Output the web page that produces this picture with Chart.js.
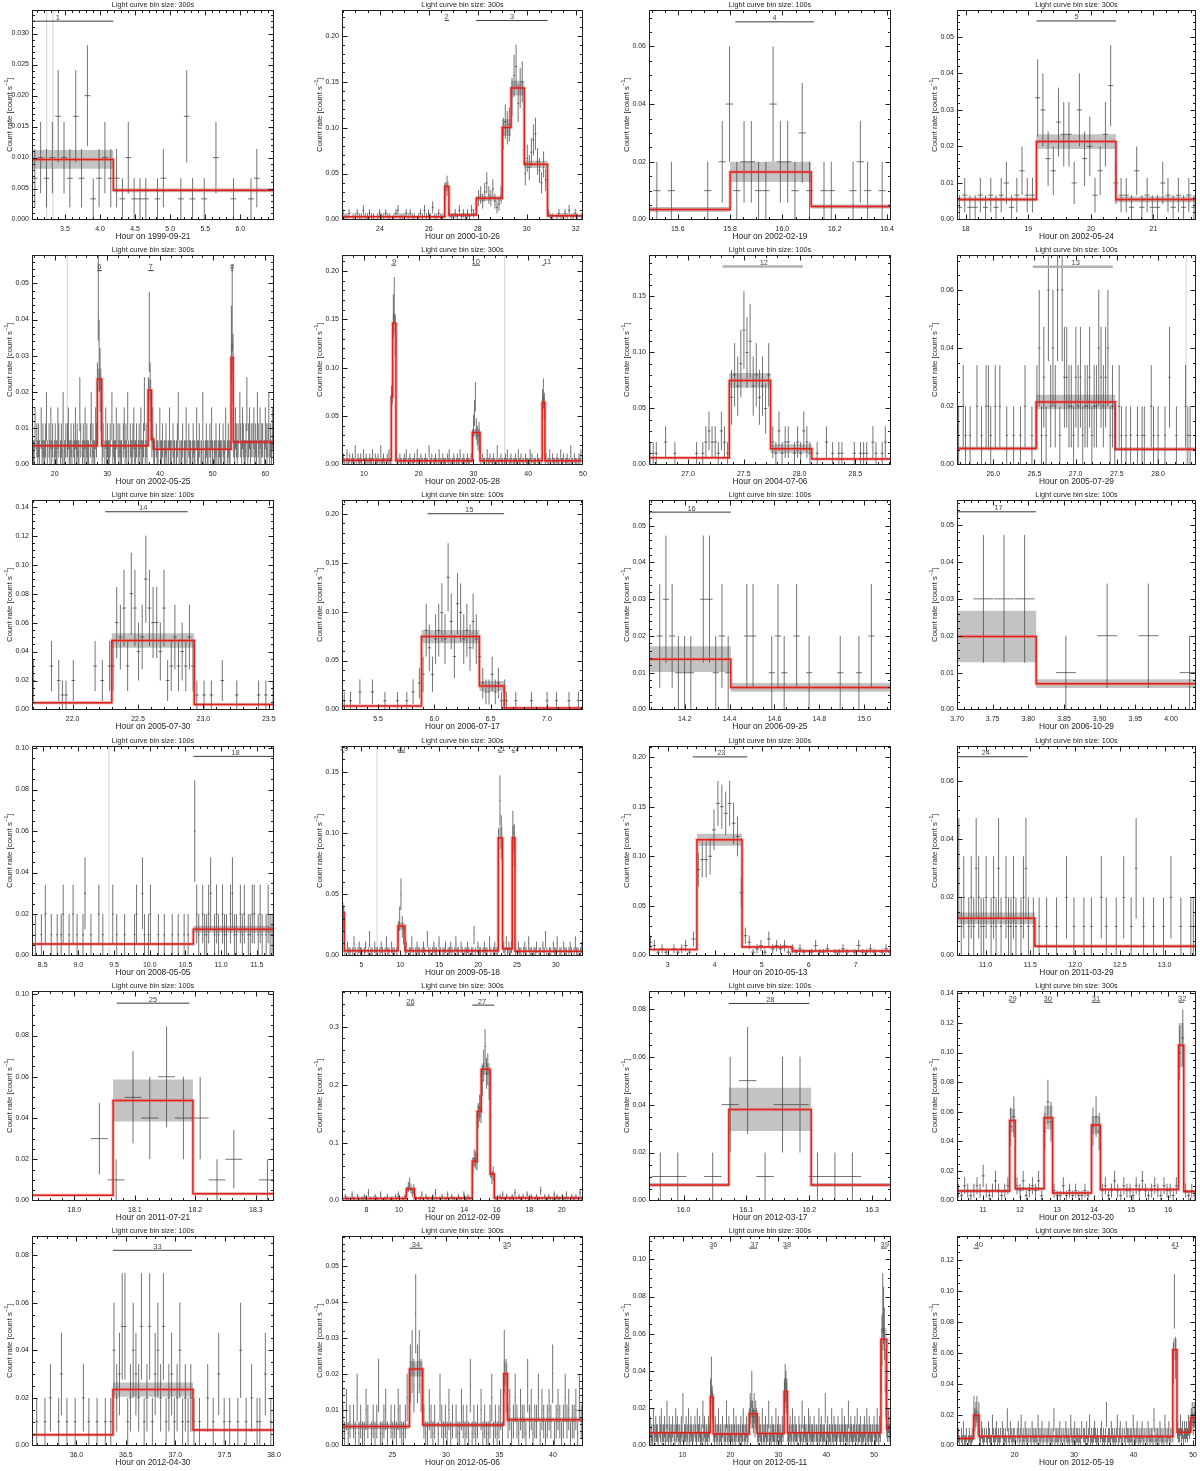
<!DOCTYPE html>
<html>
<head>
<meta charset="utf-8">
<script src="https://cdn.jsdelivr.net/npm/chart.js@4.4.1/dist/chart.umd.min.js"></script>
<style>
body { margin: 0; background: #fff; }
#wrap { position: relative; width: 1200px; height: 1471px; }
#wrap canvas { position: absolute; }
</style>
</head>
<body>
<div id="wrap"></div>
<script>
// ---- panel metadata (reading order, 6 rows x 4 cols) ----
const DATES = ['1999-09-21','2000-10-26','2002-02-19','2002-05-24','2002-05-25','2002-05-28','2004-07-06','2005-07-29',
  '2005-07-30','2006-07-17','2006-09-25','2006-10-29','2008-05-05','2009-05-18','2010-05-13','2011-03-29',
  '2011-07-21','2012-02-09','2012-03-17','2012-03-20','2012-04-30','2012-05-06','2012-05-11','2012-05-19'];
const BIN_SIZE = [300,300,100,300,300,300,100,100,100,100,100,100,100,300,300,100,100,300,100,300,100,300,300,300];
// spacing (hours) of the listed light-curve samples
const SAMPLE_STEP = [0.0833,0.0833,0.02778,0.0833,0.1667,0.1667,0.02778,0.02778,0.02778,0.02778,0.02778,0.0289,
  0.02778,0.1667,0.0833,0.02778,0.02778,0.0833,0.02778,0.0833,0.02778,0.1667,0.1667,0.1667];
// count rate of one count in a bin
const RATE_UNIT = [0.00333,0.00333,0.01,0.00333,0.00333,0.00333,0.01,0.01,0.01,0.009,0.01,0.01,0.01,0.00333,0.00333,
  0.01,0.01,0.00333,0.01,0.00333,0.01,0.00333,0.00333,0.00333];
const X_RANGE = [[3.03,6.48],[22.45,32.3],[15.49,16.415],[17.86,21.68],[15.7,61.65],[6,50],[26.65,28.82],[25.56,28.46],
  [21.69,23.54],[5.18,7.32],[14.04,15.12],[3.70,4.035],[8.35,11.74],[2.5,33.5],[2.6,7.75],[10.68,13.35],
  [17.93,18.33],[6.5,21.3],[15.945,16.33],[10.3,16.75],[35.55,38.0],[20.3,42.8],[3,53.5],[10.3,50.5]];
const X_STEP = [0.5,2,0.2,1,10,10,0.5,0.5,0.5,0.5,0.2,0.05,0.5,5,1,0.5,0.1,2,0.1,1,0.5,5,10,10];
const Y_MAX = [0.0338,0.228,0.0726,0.0573,0.0578,0.2165,0.187,0.072,0.1446,0.214,0.057,0.0568,0.101,0.171,0.211,
  0.0721,0.1016,0.362,0.0874,0.1416,0.088,0.0583,0.1125,0.1355];
const Y_STEP = [0.005,0.05,0.02,0.01,0.01,0.05,0.05,0.02,0.02,0.05,0.01,0.01,0.02,0.05,0.05,0.02,0.02,0.1,0.02,0.02,
  0.02,0.01,0.02,0.02];

// ---- Bayesian blocks: edges, rates, half width of the grey band ----
const BLOCK_EDGES = [
  [3.03,4.19,6.48],
  [22.45,26.65,26.82,27.94,29.0,29.36,29.9,30.85,32.3],
  [15.49,15.8,16.11,16.415],
  [17.86,19.13,20.4,21.68],
  [15.7,28.1,28.95,37.75,38.4,38.8,53.5,53.9,61.65],
  [6,15.0,15.25,15.85,29.8,31.2,42.55,43.05,50],
  [26.65,27.37,27.74,28.11,28.82],
  [25.56,26.52,27.48,28.46],
  [21.69,22.3,22.93,23.54],
  [5.18,5.886,6.40,6.62,7.32],
  [14.04,14.405,15.12],
  [3.70,3.811,4.035],
  [8.35,10.61,11.74],
  [2.5,2.8,9.7,10.6,22.6,23.15,24.4,24.75,33.5],
  [2.6,3.62,4.58,5.65,7.75],
  [10.68,11.55,13.35],
  [17.93,18.064,18.196,18.33],
  [6.5,10.45,10.95,14.5,14.8,15.05,15.6,15.85,21.3],
  [15.945,16.072,16.203,16.33],
  [10.3,11.72,11.87,12.65,12.88,13.93,14.17,16.28,16.42,16.75],
  [35.55,36.37,37.18,38.0],
  [20.3,26.6,27.84,35.4,35.75,42.8],
  [3,15.8,16.4,23.9,25.6,31.2,31.9,51.4,52.6,53.5],
  [10.3,13.1,14.0,46.6,47.3,49.6,50.5]
];
const BLOCK_RATES = [
  [0.0097,0.0047],
  [0.003,0.036,0.005,0.023,0.1,0.143,0.06,0.004],
  [0.0035,0.0165,0.0045],
  [0.0055,0.0213,0.0055],
  [0.0052,0.0235,0.0052,0.0205,0.007,0.0042,0.0295,0.0062],
  [0.0045,0.07,0.146,0.004,0.033,0.004,0.064,0.004],
  [0.006,0.075,0.014,0.005],
  [0.0055,0.0215,0.0052],
  [0.0046,0.0476,0.0035],
  [0.0035,0.0745,0.024,0.0015],
  [0.0137,0.006],
  [0.0198,0.007],
  [0.0055,0.0127],
  [0.035,0.0038,0.024,0.0038,0.096,0.0055,0.096,0.0035],
  [0.006,0.1165,0.0085,0.0045],
  [0.0128,0.0032],
  [0.0025,0.0485,0.0033],
  [0.0035,0.02,0.004,0.068,0.154,0.227,0.046,0.0045],
  [0.0065,0.038,0.0065],
  [0.0065,0.054,0.008,0.056,0.005,0.051,0.0075,0.105,0.006],
  [0.0045,0.0235,0.0065],
  [0.0053,0.0213,0.0057,0.02,0.0072],
  [0.0068,0.026,0.0062,0.017,0.0065,0.029,0.0068,0.057,0.009],
  [0.0045,0.0195,0.0058,0.062,0.0085,0.018]
];
const BLOCK_ERRS = [
  [0.0015,0.0003],
  [0.0007,0.005,0.001,0.0025,0.009,0.008,0.004,0.0007],
  [0.0008,0.0035,0.0007],
  [0.0005,0.002,0.0008],
  [0.0003,0.003,0.0003,0.003,0.001,0.0002,0.004,0.0004],
  [0.0004,0.01,0.01,0.0004,0.004,0.0004,0.006,0.0005],
  [0.0006,0.0066,0.004,0.0005],
  [0.0006,0.0025,0.0006],
  [0.0008,0.005,0.0006],
  [0.0005,0.0067,0.005,0.0004],
  [0.0035,0.0012],
  [0.007,0.0012],
  [0.0005,0.0017],
  [0.008,0.0003,0.003,0.0003,0.009,0.001,0.01,0.0003],
  [0.0008,0.006,0.001,0.0005],
  [0.002,0.0005],
  [0.0003,0.0102,0.0004],
  [0.0004,0.003,0.0004,0.006,0.01,0.01,0.004,0.0004],
  [0.0007,0.009,0.0007],
  [0.001,0.008,0.0012,0.008,0.0008,0.006,0.0008,0.015,0.001],
  [0.0004,0.003,0.0005],
  [0.0008,0.0021,0.0006,0.003,0.0006],
  [0.0004,0.004,0.0003,0.002,0.0003,0.005,0.0003,0.006,0.002],
  [0.001,0.003,0.0003,0.007,0.002,0.003]
];

// ---- flare intervals: [start, end, label position, label] ----
const FLARES = [
  [[2.8,4.19,3.4,'1']],
  [[26.65,26.82,26.72,'2'],[27.93,30.85,29.4,'3']],
  [[15.82,16.12,15.97,'4']],
  [[19.13,20.4,19.77,'5']],
  [[28.1,28.95,28.5,'6'],[37.75,38.8,38.2,'7'],[53.5,53.9,53.7,'8']],
  [[15.0,15.85,15.5,'9'],[29.8,31.2,30.4,'10'],[42.55,43.05,43.5,'11']],
  [[27.31,28.03,27.68,'12']],
  [[26.48,27.45,27.0,'13']],
  [[22.25,22.88,22.54,'14']],
  [[5.94,6.62,6.31,'15']],
  [[13.9,14.405,14.23,'16']],
  [[3.6,3.811,3.758,'17']],
  [[10.61,11.9,11.2,'18']],
  [[2.5,2.8,2.75,'19'],[9.7,10.6,10.1,'20'],[22.6,23.15,23.0,'21'],[24.4,24.75,24.8,'22']],
  [[3.53,4.69,4.14,'23']],
  [[10.5,11.47,11.0,'24']],
  [[18.07,18.19,18.13,'25']],
  [[10.45,10.95,10.7,'26'],[14.5,15.85,15.1,'27']],
  [[16.072,16.2,16.138,'28']],
  [[11.72,11.87,11.8,'29'],[12.65,12.88,12.75,'30'],[13.93,14.17,14.05,'31'],[16.28,16.42,16.38,'32']],
  [[36.37,37.17,36.82,'33']],
  [[26.6,27.84,27.2,'34'],[35.4,35.75,35.7,'35']],
  [[15.8,16.4,16.4,'36'],[23.9,25.6,25.0,'37'],[31.2,31.9,31.8,'38'],[51.4,52.6,52.2,'39']],
  [[13.1,14.0,14.0,'40'],[46.6,47.3,47.0,'41']]
];
const FLARE_Y = [0.032,0.2166,0.0685,0.0543,0.0535,0.206,0.1767,0.068,0.1365,0.2,0.0537,0.0536,0.096,0.166,0.2,
  0.0684,0.0957,0.3376,0.0822,0.134,0.082,0.0549,0.106,0.1276];
const VLINES = [[3.24,3.33],[],[],[],[22.4],[35.7],[],[28.34],[],[],[],[],[9.43],[7.0],[],[],[],[],[],[],[],[],[],[]];

// ---- light curves: [first sample time, counts per bin ...] ----
const C01 = [[3.07,[2,3,2,3,5,3,2,5,2,6,1,2,3,2,2,1,3,1,1,1,0,1,2,0,0,1,5,1,0,1,0,3,0,0,1,0,0,1,2,0,0]]];
const C02 = [
  [22.49,[2,1,1,2,0,1,1,2,1,1,3,1,1,2,1,1,0,1,2,1,1,2,1,1,0,1,2,3,1,1,1,2,1,2,1,1,0,1,2,1,3,1,2,1,4,1,1,2,1,1]],
  [26.66,[9,11]],
  [26.83,[2,1,1,2,1,3,1,2,1,2,1,3,2]],
  [27.95,[5,7,8,6,9,12,8,7,10,6,4,5,8]],
  [29.04,[28,32,30,31]],
  [29.4,[40,47,50,38,43,45]],
  [29.94,[15,20,17,22,26,28,19,16,12,18,13]],
  [30.9,[2,1,1,0,1,2,1,1,2,1,3,1,1,2,1,0,1]]];
const C03 = [[15.52,[1,0,1,0,0,0,0,1,0,2,4,1,2,2,1,1,4,2,2,1,3,1,0,1,1,0,0,1,2,1,0,1,0]]];
const C04 = [[17.9,[1,2,1,1,2,1,2,1,2,3,1,2,4,2,2,10,9,5,4,8,7,7,3,9,5,6,2,4,7,11,3,2,2,1,4,1,2,1,1,3,2,1,2,1,2,1]]];
const C05 = [
  [15.78,[2,1,1,3,0,2,1,2,1,0,3,1,2,1,1,2,4,1,0,2,1,3,1,2,0,1,2,1,1,3,2,0,1,2,1,4,1,1,2,0,2,3,1,1,2,1,0,2,1,3,
    1,2,1,1,5,2,0,1,2,1,3,1,2,1,1,0,2,4,1,2,1,1,3,2]],
  [28.12,[6,14,9,7,5]],
  [29.04,[1,2,0,1,3,1,2,1,1,2,0,4,1,2,1,1,3,0,2,1,2,1,1,0,2,3,1,2,1,4,1,0,2,1,1,2,3,1,1,2,0,1,2,1,3,1,1,2,5,1,2,1]],
  [37.8,[5,11,6,4]],
  [38.47,[2,3,1]],
  [38.97,[1,0,2,1,1,0,3,1,1,2,0,1,1,2,1,0,1,3,1,1,0,2,1,1,0,1,2,4,1,0,1,1,2,0,1,1,3,1,0,2,1,1,0,1,2,1,1,0,3,1,
    1,2,0,1,1,4,1,0,1,2,1,1,0,2,1,3,1,0,1,1,2,1,0,1,2,1,1,0,2,1,1,3,0,1,2,1,1]],
  [53.55,[10,13,8]],
  [54.0,[2,1,3,2,1,2,0,4,2,1,3,2,1,1,2,5,1,2,3,1,2,0,2,3,1,2,1,4,2,1,3,1,2,2,0,1,3,2,1,2,4,1,2,1,3,2]]];
const C06 = [
  [6.08,[1,2,1,0,1,3,1,1,2,0,1,2,1,1,4,1,0,2,1,1,2,1,0,3,1,1,2,1,0,1,2,1,1,3,1,0,2,1,1,2,0,1,4,1,1,2,1,0,1,2,1,3,1,1]],
  [15.04,[20,24,46,51,40]],
  [15.9,[3,1,1,0,2,1,1,0,1,2,1,3,0,1,1,2,1,0,1,1,2,0,1,3,1,1,0,2,1,1,0,1,2,1,1,0,4,1,1,2,0,1,1,2,1,0,1,3,1,1,
    0,2,1,1,1,0,2,1,3,1,0,1,1,2,1,0,1,2,1,1,3,0,1,1,2,1,0,1,2,1,1,0,2]],
  [29.85,[8,12,16,21,11,9,7,10,6]],
  [31.35,[1,0,2,1,1,0,1,3,1,1,2,0,1,1,2,1,0,1,4,1,1,0,2,1,1,0,1,2,1,3,0,1,1,2,1,0,1,1,2,1,0,3,1,1,2,0,1,1,0,2,
    1,1,0,1,3,1,2,0,1,1,1,0,2,1,1,0,1]],
  [42.6,[19,22,18]],
  [43.1,[1,2,0,1,1,3,1,0,2,1,1,0,1,2,1,1,0,3,1,1,2,0,1,1,2,1,0,1,4,1,1,0,2,1,1,0,1,2,1,3,0,1]]];
const C07 = [
  [26.66,[1,1,1,0,0,2,0,0,1,0,0,0,0,0,0,1,0,1,2,3,2,2,1,3,2,1]],
  [27.39,[6,8,7,9,12,10,11,7,8,6,7,5,8]],
  [27.76,[2,1,3,1,2,2,0,1,2,1,3,2,1]],
  [28.13,[0,1,0,0,2,0,1,0,1,1,0,0,0,1,0,1,1,1,0,2,1,0,1,2,0]]];
const C08 = [
  [25.58,[1,0,2,1,0,1,0,0,2,0,1,0,2,2,1,0,2,0,2,0,0,1,0,0,1,0,0,1,0,2,0,0,1,0]],
  [26.53,[2,4,1,3,1,6,2,4,2,6,1,6,3,3,2,2,1,3,2,3,1,2,2,3,1,2,2,4,3,2,3,4,1,2,1]],
  [27.5,[0,2,1,0,1,0,1,0,0,1,0,1,1,0,0,2,1,0,1,0,0,1,0,3,0,0,1,0,0,0,2,1,1,0,0]]];
const C09 = [
  [21.7,[2,0,0,0,0,3,0,2,1,1,0,2,0,0,0,0,0,3,0,2,0,3]],
  [22.31,[3,6,5,7,3,8,7,4,5,9,7,6,6,4,7,2,3,5,3,4,3,5,3]],
  [22.95,[1,0,1,0,1,0,0,2,0,0,0,1,0,0,0,0,0,1,0,1,0,1]]];
const C10 = [
  [5.2,[1,0,1,0,0,2,0,0,0,2,0,0,0,1,0,0,0,1,0,0,1,0,2,0,3]],
  [5.9,[4,9,7,4,8,9,11,8,15,10,6,12,11,8,9,7,10,8,6]],
  [6.43,[3,2,2,4,2,3,1,2]],
  [6.64,[1,0,0,1,0,0,0,0,1,0,0,0,0,1,0,0,1,0,0,0,1,0,0,1,0]]];
const C11 = [[14.06,[0,2,3,2,1,1,1,0,3,3,1,2,1,0,0,2,2,0,0,1,2,1,0,2,0,1,0,0,0,0,1,0,0,1,0,2,0,0,0]]];
const C12 = [[3.737,[3,3,3,0,1,0,2,0,2,0,1]]];
const C13 = [
  [8.37,[0,1,0,0,1,0,2,0,0,1,0,0,1,0,1,2,0,0,1,0,2,0,1,0,0,1,3,0,0,1,0,0,0,2,0,1,0,0,0,0,2,0,1,0,0,0,1,0,0,0,
    0,1,2,0,0,3,1,0,1,2,0,0,0,1,0,0,1,0,0,0,1,0,0,1,0,0,1,0,1,0,0]],
  [10.63,[6,2,1,0,2,1,1,2,3,0,1,2,1,0,2,1,1,0,2,3,1,1,0,2,1,2,0,1,1,2,2,0,1,2,1,0,1,2,1,1,1]]];
const C14 = [
  [2.55,[11,9]],
  [2.88,[1,0,2,1,1,0,1,3,1,0,1,2,1,1,0,1,2,0,1,4,1,1,0,2,1,1,0,1,2,1,0,1,3,1,1,0,2,1,1,0,1]],
  [9.75,[6,9,15,7,5]],
  [10.65,[1,2,0,1,1,3,1,0,1,2,1,1,0,1,2,1,0,4,1,1,0,1,2,1,1,0,3,1,0,1,1,2,0,1,1,2,1,0,1,3,1,1,0,2,1,0,1,1,2,1,
    0,1,1,5,1,0,2,1,1,0,1,2,1,1,0,3,1,0,1,2,1,1]],
  [22.65,[26,38,29]],
  [23.3,[2,1,3,1,2,1,2]],
  [24.48,[30,27]],
  [24.85,[1,0,2,1,1,0,1,2,1,0,3,1,1,0,1,1,2,0,1,1,0,2,1,4,1,0,1,1,0,2,1,1,3,0,1,1,0,2,1,1,0,1,2,1,0,1,3,1,1,0,1,2]]];
const C15 = [
  [2.63,[4,3,1,2,1,0,2,1,2,3,1,5]],
  [3.65,[26,29,29,30,38,46,45,43,46,40,36,19]],
  [4.65,[6,4,1,2,3,1,5,2,3,2,3,1,2]],
  [5.73,[1,2,1,0,1,3,1,1,2,0,1,1,2,1,0,1,3,1,1,2,1,0,1,2,1]]];
const C16 = [
  [10.7,[3,1,2,0,1,2,1,3,2,1,1,2,0,1,2,1,3,1,0,2,1,1,2,1,0,1,2,3,1,0,1]],
  [11.57,[0,1,0,0,1,0,0,0,1,0,0,0,2,0,0,1,0,0,0,1,0,0,1,0,0,0,2,0,1,0,0,0,1,0,0,2,0,0,1,0,3,0,0,1,0,0,0,1,0,0,
    0,1,0,0,2,0,0,0,1,0,0,0,1,1,0]]];
const C17 = [[17.958,[0,0,0,3,1,5,4,6,4,4,1,2,0,1]]];
const C18 = [
  [6.54,[1,0,2,1,1,0,1,3,1,1,0,2,1,0,1,1,2,1,0,4,1,1,0,1,2,1,1,0,3,1,0,1,1,2,0,1,1,1,0,2,1,3,1,0,1,1,2]],
  [10.49,[5,7,9,6,4,6]],
  [10.99,[2,1,0,1,1,3,1,0,2,1,1,0,1,2,1,4,1,0,1,1,2,0,1,1,3,1,0,2,1,1,0,1,2,1,1,0,3,1,1,2,1,1]],
  [14.54,[18,22,21,20]],
  [14.87,[44,48,47]],
  [15.12,[62,70,80,66,68,60]],
  [15.62,[16,12,14]],
  [15.87,[2,1,1,0,2,1,3,1,1,2,0,1,1,2,1,4,1,0,2,1,1,2,0,1,3,1,1,2,1,0,1,2,1,1,5,1,0,2,1,1,2,1,0,1,3,1,2,1,1,0,
    2,1,1,3,1,0,1,2,1,1,2,0,1,4,1,1]]];
const C19 = [[15.963,[1,1,0,1,4,5,1,4,4,1,1,1,0,0]]];
const C20 = [
  [10.34,[2,1,3,2,1,2,3,2,5,2,1,2,4,2,1,2,3]],
  [11.75,[15,17]],
  [11.92,[3,2,4,1,2,3,2,4,1]],
  [12.67,[14,20,16]],
  [12.92,[2,1,1,3,1,2,1,2,1,1,2,1]],
  [13.97,[15,17,14]],
  [14.22,[2,3,1,2,4,2,1,3,2,2,1,3,2,4,2,1,2,3,2,1,3,2,2,1,3]],
  [16.31,[30,33]],
  [16.47,[2,1,2,1]]];
const C21 = [
  [35.57,[0,1,0,0,1,0,2,0,0,1,3,0,1,0,0,1,0,0,2,0,1,0,0,1,0,0,1,0,1]],
  [36.38,[4,2,3,5,5,1,2,4,3,2,5,1,2,5,1,3,4,2,5,1,2,3,1,2,4,1,2,1,2]],
  [37.19,[1,0,1,0,0,2,0,1,0,3,0,1,0,1,0,0,1,4,0,1,0,2,0,1,1,0,3,0,1]]];
const C22 = [
  [20.38,[2,1,3,1,2,0,2,1,4,1,2,1,1,3,2,0,1,2,1,2,5,1,1,2,3,1,0,2,1,2,1,3,2,1,1,2,4]],
  [26.68,[6,7,5,11,6,7,5]],
  [27.95,[2,1,1,3,2,1,2,0,1,4,2,1,2,1,3,1,2,0,2,1,1,3,2,1,2,1,5,1,2,1,2,0,3,1,2,1,1,2,4,1,2,1,2,3,1]],
  [35.45,[7,5]],
  [35.8,[2,3,1,2,4,2,1,3,2,2,1,5,2,3,1,2,2,4,1,3,2,1,2,3,2,6,1,2,3,2,1,2,4,2,3,1,2,2,3,1,4,2,2]]];
const C23 = [
  [3.08,[2,3,1,2,1,4,2,1,3,2,2,1,0,3,2,4,1,2,2,3,1,2,5,2,1,3,2,1,2,3,0,2,1,4,2,3,2,1,2,1,3,2,6,1,2,2,3,1,2,4,
    1,2,3,2,1,2,0,3,2,1,4,2,2,3,1,2,1,5,2,3,1,2,2,1,3,2]],
  [15.85,[8,11,7,6]],
  [16.5,[2,1,3,2,1,2,4,1,2,2,1,3,0,2,1,2,5,2,1,3,2,1,2,2,1,4,2,1,3,2,0,2,1,2,3,1,2,4,2,1,2,3,1,2]],
  [23.95,[4,6,5,9,5,4,6,3,5,4]],
  [25.65,[2,1,3,2,2,1,4,2,1,2,3,1,2,2,5,1,2,1,3,2,2,1,2,4,1,2,3,2,1,2,1,3,2]],
  [31.25,[8,10,9,8]],
  [31.95,[2,1,2,3,1,2,4,2,1,3,2,2,1,0,3,2,1,2,5,1,2,3,2,1,2,1,4,2,3,1,2,2,1,3,2,0,2,1,2,4,1,2,3,2,1,2,2,6,1,2,
    3,1,2,2,1,4,2,1,3,2,2,1,2,3,0,2,1,2,4,2,1,3,2,2,1,2,5,1,2,3,2,1,2,2,3,1,2,4,1,2,2,3,1,2,1,2,3,2,1,4,
    2,1,3,2,2,1,2,0,3,2,1,2,4,2,1,3,2]],
  [51.45,[12,17,23,21,18,12,7]],
  [52.62,[3,2,4,2,3]]];
const C24 = [
  [10.38,[1,2,1,0,2,1,3,1,1,2,0,1,2,1,1,2]],
  [13.15,[7,5,6,7,4,6]],
  [14.1,[2,1,3,2,1,2,0,2,1,3,2,1,1,4,2,1,2,3,1,2,1,2,0,3,2,1,2,1,5,2,1,3,2,1,2,2,1,0,2,3,1,2,4,1,2,1,3,2,1,2,
    0,2,1,3,2,1,2,2,1,4,2,1,2,3,1,2,0,2,1,2,3,1,2,1,2,5,1,2,2,1,2,3,1,2,0,2,1,3,2,1,2,1,4,2,1,2,3,1,2,2,
    1,2,1,3,0,2,2,1,3,1,2,4,1,2,1,2,3,2,1,2,1,0,2,3,1,2,1,2,6,1,2,2,1,3,2,1,2,1,2,4,1,2,3,1,2,0,2,1,3,2,
    2,1,2,2,1,4,2,1,2,3,1,2,1,2,3,1,2,0,2,1,3,2,1,2,2,1,5,2,1,2,2,1,3,2,1,2,1,4,2,1,2,3,1,2,0,2]],
  [46.7,[16,28,17]],
  [47.4,[3,2,2,4,2,3,1,3,2,3,2,4,3]],
  [49.7,[5,6,4,6,5]]];
const COUNTS = [C01,C02,C03,C04,C05,C06,C07,C08,C09,C10,C11,C12,C13,C14,C15,C16,C17,C18,C19,C20,C21,C22,C23,C24];

// ---- layout and style ----
const COL_LEFT = [32, 42, 49, 57];
const COL_RIGHT = [274, 283, 291, 296];
const CELL_W = 300, CELL_H = 245.17, CANVAS_H = 245;
const PLOT_TOP = 10, PLOT_BOTTOM = 219.5;
const LIGHT_FLARE = [6, 7];
const FONT = '"Liberation Sans", Arial, Helvetica, sans-serif';
const INK = '#1e1e1e';
Chart.defaults.font.family = FONT;
Chart.defaults.color = INK;

function tickList(min, max, step) {
  const out = [];
  for (let k = Math.ceil(min / step - 1e-6); k * step <= max + 1e-9; k++) out.push(+(k * step).toFixed(6));
  return out;
}
function minorStep(step) {
  const lead = Math.round(step / Math.pow(10, Math.floor(Math.log10(step) + 1e-9)));
  return step / (lead === 2 ? 4 : 5);
}
function decimals(step) {
  return Math.max(0, Math.ceil(-Math.log10(step) - 1e-9));
}
// point at each block start plus a closing point; stepped:'before' holds each value until the next edge
function stepLine(edges, vals) {
  const pts = vals.map((v, k) => ({x: edges[k], y: v}));
  pts.push({x: edges[edges.length - 1], y: vals[vals.length - 1]});
  return pts;
}
function errorBars(segs, step, bin, unit) {
  const pts = [];
  segs.forEach(([t0, counts]) => {
    counts.forEach((n, k) => {
      if (!n) return;
      const t = t0 + k * step, r = n * unit, e = Math.sqrt(n) * unit;
      pts.push({x: t - bin / 2, y: r}, {x: t + bin / 2, y: r}, {x: t, y: null},
               {x: t, y: r - e}, {x: t, y: r + e}, {x: t, y: null});
    });
  });
  return pts;
}
function segments(list) {
  const pts = [];
  list.forEach(([x1, y1, x2, y2]) => pts.push({x: x1, y: y1}, {x: x2, y: y2}, {x: x2, y: null}));
  return pts;
}

function framePlugin(i) {
  const [xmin, xmax] = X_RANGE[i];
  return {
    id: 'idlFrame' + i,
    afterDatasetsDraw(chart) {
      const {ctx, chartArea: a, scales: {x, y}} = chart;
      const L = Math.round(a.left) + 0.5, R = Math.round(a.right) - 0.5;
      const T = Math.round(a.top) + 0.5, B = Math.round(a.bottom) - 0.5;
      ctx.save();
      ctx.strokeStyle = INK;
      ctx.lineWidth = 1;
      ctx.strokeRect(L, T, R - L, B - T);
      ctx.beginPath();
      const xt = (vals, len) => vals.forEach(v => {
        const p = Math.round(x.getPixelForValue(v)) + 0.5;
        if (p < L || p > R) return;
        ctx.moveTo(p, B); ctx.lineTo(p, B - len);
        ctx.moveTo(p, T); ctx.lineTo(p, T + len);
      });
      const yt = (vals, len) => vals.forEach(v => {
        const p = Math.round(y.getPixelForValue(v)) + 0.5;
        if (p < T || p > B) return;
        ctx.moveTo(L, p); ctx.lineTo(L + len, p);
        ctx.moveTo(R, p); ctx.lineTo(R - len, p);
      });
      xt(tickList(xmin, xmax, X_STEP[i]), 5);
      xt(tickList(xmin, xmax, minorStep(X_STEP[i])), 2.5);
      yt(tickList(0, Y_MAX[i], Y_STEP[i]), 5);
      yt(tickList(0, Y_MAX[i], minorStep(Y_STEP[i])), 2.5);
      ctx.stroke();

      // flare numbers
      ctx.fillStyle = '#4a4a4a';
      ctx.font = `7.5px ${FONT}`;
      ctx.textAlign = 'center';
      ctx.textBaseline = 'alphabetic';
      const fy = y.getPixelForValue(FLARE_Y[i]);
      FLARES[i].forEach(f => ctx.fillText(f[3], x.getPixelForValue(f[2]), fy - 1.5));

      // titles
      ctx.fillStyle = INK;
      const cx = (a.left + a.right) / 2;
      ctx.font = `7.3px ${FONT}`;
      ctx.fillText(`Light curve bin size: ${BIN_SIZE[i]}s`, cx, a.top - 2.7);
      ctx.font = `8.4px ${FONT}`;
      ctx.fillText(`Hour on ${DATES[i]}`, cx, a.bottom + 19.5);

      // y title with superscript
      ctx.translate(a.left - 23, (a.top + a.bottom) / 2);
      ctx.rotate(-Math.PI / 2);
      ctx.textAlign = 'left';
      const main = 'Count rate [count s', sup = '\u22121', end = ']';
      ctx.font = `7.8px ${FONT}`;
      const w1 = ctx.measureText(main).width, w3 = ctx.measureText(end).width;
      ctx.font = `5.6px ${FONT}`;
      const w2 = ctx.measureText(sup).width;
      const px = -(w1 + w2 + w3) / 2;
      ctx.font = `7.8px ${FONT}`;
      ctx.fillText(main, px, 2.8);
      ctx.font = `5.6px ${FONT}`;
      ctx.fillText(sup, px + w1, -0.6);
      ctx.font = `7.8px ${FONT}`;
      ctx.fillText(end, px + w1 + w2, 2.8);
      ctx.restore();
    }
  };
}

const wrap = document.getElementById('wrap');
DATES.forEach((date, i) => {
  const row = Math.floor(i / 4), col = i % 4;
  const canvas = document.createElement('canvas');
  canvas.width = CELL_W; canvas.height = CANVAS_H;
  canvas.style.left = (col * CELL_W) + 'px';
  canvas.style.top = Math.round(row * CELL_H) + 'px';
  canvas.style.width = CELL_W + 'px'; canvas.style.height = CANVAS_H + 'px';
  wrap.appendChild(canvas);

  const [xmin, xmax] = X_RANGE[i];
  const ymax = Y_MAX[i];
  const xd = decimals(X_STEP[i]), yd = decimals(Y_STEP[i]);
  const rates = BLOCK_RATES[i], errs = BLOCK_ERRS[i], edges = BLOCK_EDGES[i];
  const light = LIGHT_FLARE.includes(i);

  const datasets = [
    {data: stepLine(edges, rates.map((r, k) => r + errs[k])), stepped: 'before', borderColor: 'rgba(0,0,0,0)',
      borderWidth: 0, backgroundColor: '#c3c3c3', fill: '+1', order: 6},
    {data: stepLine(edges, rates.map((r, k) => r - errs[k])), stepped: 'before', borderColor: 'rgba(0,0,0,0)',
      borderWidth: 0, fill: false, order: 6},
    {data: segments(VLINES[i].map(v => [v, 0, v, ymax])), borderColor: '#d2d2d2', borderWidth: 1, fill: false, order: 5},
    {data: errorBars(COUNTS[i], SAMPLE_STEP[i], BIN_SIZE[i] / 3600, RATE_UNIT[i]), borderColor: 'rgba(60,60,60,0.8)',
      borderWidth: 0.9, fill: false, order: 4},
    {data: stepLine(edges, rates), stepped: 'before', borderColor: 'rgba(235,90,90,0.35)', borderWidth: 3.5,
      fill: false, order: 3},
    {data: stepLine(edges, rates), stepped: 'before', borderColor: '#e0221c', borderWidth: 1.5, fill: false, order: 2},
    {data: segments(FLARES[i].map(f => [f[0], FLARE_Y[i], f[1], FLARE_Y[i]])),
      borderColor: light ? '#b2b2b2' : '#3a3a3a', borderWidth: light ? 2.5 : 1, fill: false, order: 1}
  ];

  new Chart(canvas, {
    type: 'line',
    data: {datasets},
    options: {
      responsive: false,
      animation: false,
      events: [],
      layout: {padding: {top: PLOT_TOP, right: CELL_W - COL_RIGHT[col], bottom: 0, left: 0}},
      elements: {point: {radius: 0}, line: {tension: 0}},
      plugins: {legend: {display: false}, tooltip: {enabled: false}},
      scales: {
        x: {
          type: 'linear', min: xmin, max: xmax,
          grid: {display: false, drawTicks: false}, border: {display: false},
          afterBuildTicks: s => { s.ticks = tickList(xmin, xmax, X_STEP[i]).map(v => ({value: v})); },
          afterFit: s => { s.height = CANVAS_H - PLOT_BOTTOM; s.paddingLeft = 0; s.paddingRight = 0; },
          ticks: {font: {size: 7}, color: INK, padding: 5, maxRotation: 0, autoSkip: false,
            callback: v => Number(v).toFixed(xd)}
        },
        y: {
          type: 'linear', min: 0, max: ymax,
          grid: {display: false, drawTicks: false}, border: {display: false},
          afterBuildTicks: s => { s.ticks = tickList(0, ymax, Y_STEP[i]).map(v => ({value: v})); },
          afterFit: s => { s.width = COL_LEFT[col]; s.paddingTop = 0; s.paddingBottom = 0; },
          ticks: {font: {size: 7}, color: INK, padding: 3, autoSkip: false,
            callback: v => Number(v).toFixed(yd)}
        }
      }
    },
    plugins: [framePlugin(i)]
  });
});
</script>
</body>
</html>
